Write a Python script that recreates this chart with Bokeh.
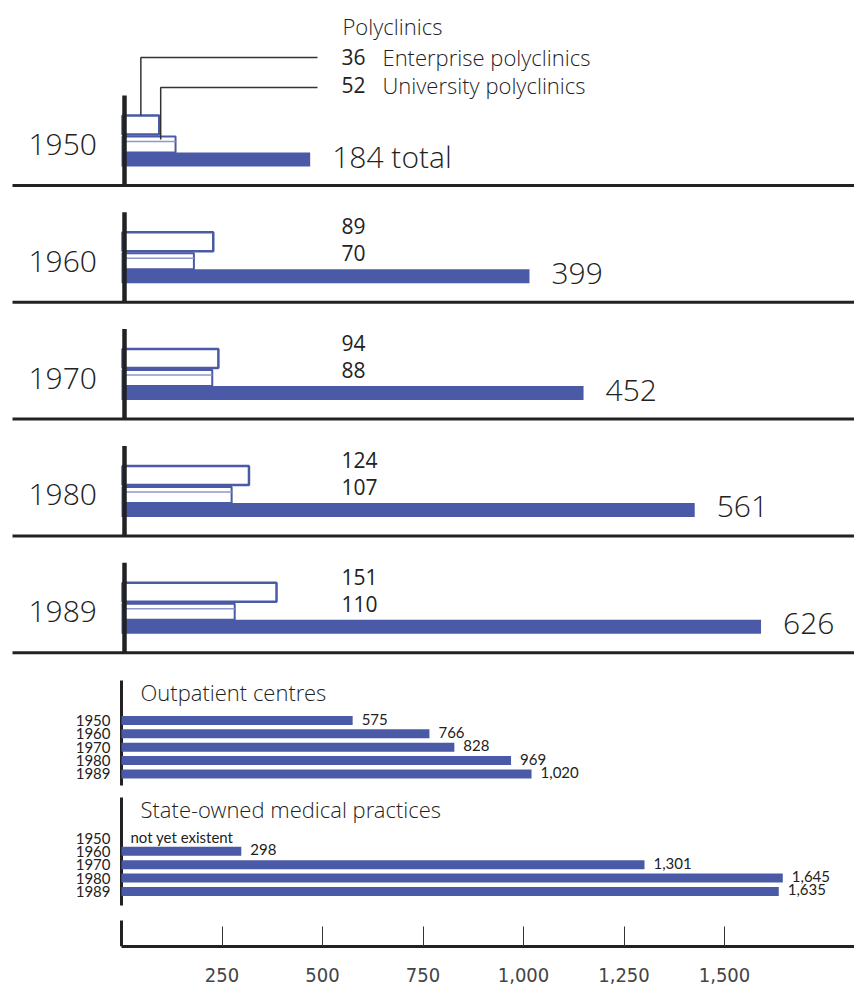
from bokeh.plotting import figure
from bokeh.models import Range1d, FixedTicker, NumeralTickFormatter
from bokeh.core.properties import value
from bokeh.embed import file_html
from bokeh.resources import INLINE

# ---------------- data ----------------
years = ["1950", "1960", "1970", "1980", "1989"]
poly_enterprise = [36, 89, 94, 124, 151]
poly_university = [52, 70, 88, 107, 110]
poly_total = [184, 399, 452, 561, 626]
outpatient = [575, 766, 828, 969, 1020]
state_practices = [None, 298, 1301, 1645, 1635]
tick_values = [250, 500, 750, 1000, 1250, 1500]

# ---------------- style / layout ----------------
BLUE = "#4a5aa6"
LIGHT = "#8c97cc"
INK = "#222222"
FONT = value("Open Sans Light, Open Sans, sans-serif")
FONT_REG = value("Open Sans, sans-serif")
FONT_SMALL = value("Lato, sans-serif")
NARROW_NAME = "Liberation Sans Narrow, DejaVu Sans Condensed, sans-serif"

W, H = 854, 990
MAIN_PX0, MAIN_K = 121.0, 0.402      # main scale: px per unit
POLY_PX0, POLY_K = 122.0, 1.02       # polyclinic scale
LEFT, RIGHT, TOP, BOTTOM = 0.0, 854.0, 0.0, 946.0


def mx(px):
    return (px - MAIN_PX0) / MAIN_K


def px_(px):
    return (px - POLY_PX0) / POLY_K


p = figure(width=W, height=H, output_backend="svg", toolbar_location=None,
           x_range=Range1d(mx(LEFT), mx(RIGHT)), y_range=Range1d(BOTTOM, TOP),
           y_axis_location=None, min_border_left=0, min_border_right=0,
           min_border_top=0, min_border_bottom=int(H - BOTTOM))
p.extra_x_ranges = {"poly": Range1d(px_(LEFT), px_(RIGHT))}
p.grid.visible = False
p.outline_line_color = None
p.background_fill_color = "white"
p.border_fill_color = "white"

# ---------------- polyclinic panels ----------------
STEP = 116.8
Bs = [185 + STEP * i for i in range(len(years))]

# bars
p.quad(left=[0] * 5, right=poly_enterprise, top=[b - 70 for b in Bs], bottom=[b - 51 for b in Bs],
       fill_color="white", line_color=BLUE, line_width=2.5, x_range_name="poly")
p.quad(left=[0] * 5, right=poly_university, top=[b - 49 for b in Bs], bottom=[b - 33 for b in Bs],
       fill_color="white", line_color=BLUE, line_width=2, x_range_name="poly")
p.segment(x0=[0] * 5, x1=poly_university, y0=[b - 44 for b in Bs], y1=[b - 44 for b in Bs],
          line_color=LIGHT, line_width=1.5, x_range_name="poly")
p.quad(left=[px_(121)] * 5, right=poly_total, top=[b - 33 for b in Bs], bottom=[b - 19 for b in Bs],
       fill_color=BLUE, line_color=None, x_range_name="poly")

# panel axes and separators
p.segment(x0=[px_(124)] * 5, x1=[px_(124)] * 5, y0=[b - 90 for b in Bs], y1=Bs,
          line_color=INK, line_width=4.5, x_range_name="poly")
p.segment(x0=[mx(12)] * 5, x1=[mx(RIGHT)] * 5, y0=Bs, y1=Bs, line_color=INK, line_width=3)

# year labels
p.text(x=[mx(28)] * 5, y=[b - 41 for b in Bs], text=years, text_font=FONT,
       text_font_size="30px", text_color=INK, text_baseline="middle", text_align="left")

# sub labels (1960-1989 placed inside panel; 1950 in legend)
sub_y_ent = [56] + [b - 76 for b in Bs[1:]]
sub_y_uni = [84] + [b - 49 for b in Bs[1:]]
p.text(x=[mx(341)] * 5, y=sub_y_ent, text=[str(v) for v in poly_enterprise], text_font=FONT_REG,
       text_font_size="21px", text_color=INK, text_baseline="middle")
p.text(x=[mx(341)] * 5, y=sub_y_uni, text=[str(v) for v in poly_university], text_font=FONT_REG,
       text_font_size="21px", text_color=INK, text_baseline="middle")

# totals
tot_txt = [f"{poly_total[0]} total"] + [str(v) for v in poly_total[1:]]
p.text(x=poly_total, y=[b - 29 for b in Bs], text=tot_txt, x_offset=22, text_font=FONT,
       text_font_size="30px", text_color=INK, text_baseline="middle", x_range_name="poly")

# heading and legend
p.text(x=[mx(342)], y=[25], text=["Polyclinics"], text_font=FONT, text_font_size="22px",
       text_color=INK, text_baseline="middle")
p.text(x=[mx(382)] * 2, y=[56, 84], text=["Enterprise polyclinics", "University polyclinics"],
       text_font=FONT, text_font_size="22px", text_color=INK, text_baseline="middle")

# connector lines
e0, u0 = poly_enterprise[0], poly_university[0]
p.multi_line(xs=[[e0 * 0.5, e0 * 0.5, px_(317)], [u0 * 0.72, u0 * 0.72, px_(317)]],
             ys=[[Bs[0] - 70, 57, 57], [Bs[0] - 46, 87, 87]],
             line_color="#333333", line_width=1.5, x_range_name="poly")


# ---------------- small panels ----------------
def small_panel(title, title_y, top, bottom, row0, vals, note=None):
    rows = [row0 + 13.35 * j for j in range(len(years))]
    p.segment(x0=[0], x1=[0], y0=[top], y1=[bottom], line_color=INK, line_width=3)
    p.text(x=[mx(140)], y=[title_y], text=[title], text_font=FONT, text_font_size="22px",
           text_color=INK, text_baseline="middle")
    p.text(x=[mx(110)] * 5, y=rows, text=years, text_font=FONT_SMALL, text_font_size="15px",
           text_color=INK, text_baseline="middle", text_align="right")
    lefts, rights, tops, bots, lx, ly, lt = [], [], [], [], [], [], []
    for v, y in zip(vals, rows):
        if v is None:
            continue
        lefts.append(0); rights.append(v); tops.append(y - 4.5); bots.append(y + 4.5)
        lx.append(v); ly.append(y - 1.5); lt.append(f"{v:,}")
    p.quad(left=lefts, right=rights, top=tops, bottom=bots, fill_color=BLUE, line_color=None)
    p.text(x=lx, y=ly, text=lt, x_offset=9, text_font=FONT_SMALL, text_font_size="15px",
           text_color=INK, text_baseline="middle")
    if note:
        for v, y in zip(vals, rows):
            if v is None:
                p.text(x=[mx(130)], y=[y - 1], text=[note], text_font=FONT_SMALL,
                       text_font_size="15px", text_color=INK, text_baseline="middle")


small_panel("Outpatient centres", 691, 680, 785, 720, outpatient)
small_panel("State-owned medical practices", 808, 797, 905, 837.5, state_practices,
            note="not yet existent")

# ---------------- bottom axis ----------------
p.segment(x0=[0], x1=[0], y0=[920], y1=[BOTTOM], line_color=INK, line_width=3)
ax = p.xaxis[0]
ax.ticker = FixedTicker(ticks=tick_values)
ax.formatter = NumeralTickFormatter(format="0,0")
ax.bounds = (0, mx(RIGHT))
ax.axis_line_width = 3
ax.axis_line_color = INK
ax.major_tick_in = 20
ax.major_tick_out = 0
ax.major_tick_line_color = "#333333"
ax.major_tick_line_width = 1
ax.minor_tick_line_color = None
ax.major_label_text_font = NARROW_NAME
ax.major_label_text_font_size = "20px"
ax.major_label_text_color = "#444444"
ax.major_label_standoff = 21

open("out.html", "w").write(file_html(p, INLINE))
